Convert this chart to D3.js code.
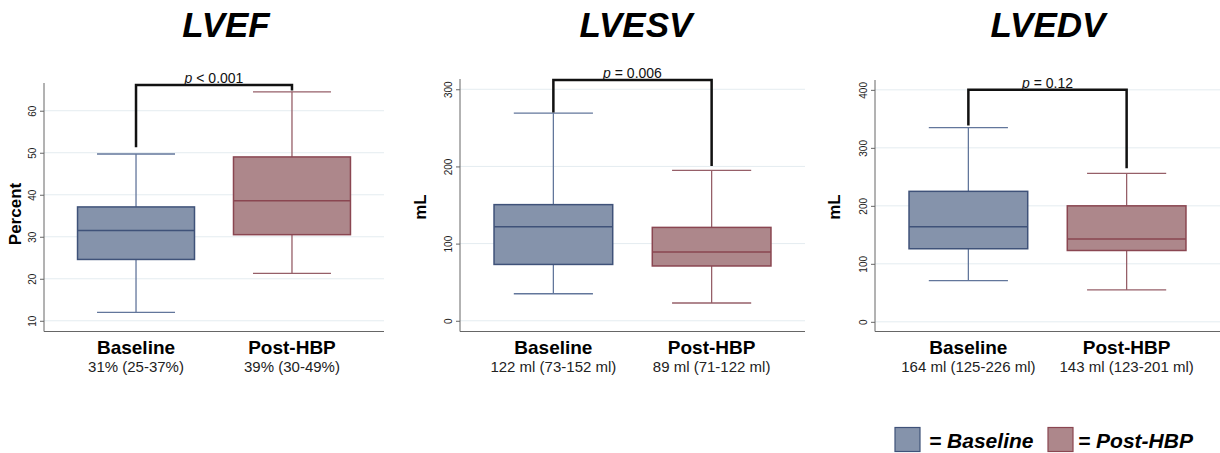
<!DOCTYPE html>
<html>
<head>
<meta charset="utf-8">
<script src="https://cdn.jsdelivr.net/npm/d3@7"></script>
<style>
  body { margin: 0; background: #fff; }
  svg { display: block; font-family: "Liberation Sans", Arial, sans-serif; }
</style>
</head>
<body>
<div class="d3-wrapper"></div>
<script>
// ---- data ----
const titles = ['LVEF', 'LVESV', 'LVEDV'];
const groups = ['Baseline', 'Post-HBP'];
const yLabels = ['Percent', 'mL', 'mL'];
const yTicks = [[10, 20, 30, 40, 50, 60], [0, 100, 200, 300], [0, 100, 200, 300, 400]];
const yDomains = [[7.45, 66.6], [-13.9, 313.3], [-16.7, 417]];

// per panel: [Baseline, Post-HBP]
const lowWhisker = [[12, 21.3], [35, 23], [71, 55]];
const q1 = [[24.6, 30.5], [73, 71], [126, 123]];
const medians = [[31.5, 38.6], [122, 89], [164, 143]];
const q3 = [[37.1, 49], [150.5, 121], [225, 200]];
const highWhisker = [[49.7, 64.5], [269, 195], [335, 256]];

const summaries = [
  ['31% (25-37%)', '39% (30-49%)'],
  ['122 ml (73-152 ml)', '89 ml (71-122 ml)'],
  ['164 ml (125-226 ml)', '143 ml (123-201 ml)']
];
const pValues = ['< 0.001', '= 0.006', '= 0.12'];
const bracketTop = [66.1, 312, 400];
const bracketLegs = [[51.3, 64.8], [270, 200.6], [338.5, 265]];

// ---- layout ----
const WIDTH = 1220, HEIGHT = 453;
const PANELS = [
  { left: 44, width: 340, top: 83, titleX: 226, labelX: 15, labelY: 214 },
  { left: 460, width: 345, top: 79, titleX: 636, labelX: 420, labelY: 207 },
  { left: 875, width: 345, top: 80, titleX: 1048, labelX: 834, labelY: 207 }
];
const BOTTOM = 331.5;

const FILL = ['#8593ab', '#ad878b'];
const EDGE = ['#3f5279', '#8a4651'];
const WHISK = ['#62769b', '#965f68'];

const svg = d3.select('.d3-wrapper').append('svg')
  .attr('width', WIDTH)
  .attr('height', HEIGHT);

titles.forEach((title, i) => {
  const P = PANELS[i];
  const x = d3.scalePoint().domain(groups).range([P.left, P.left + P.width]).padding(0.59);
  const y = d3.scaleLinear().domain(yDomains[i]).range([BOTTOM, P.top]);
  const step = x.step();
  const boxW = step * 0.75, capW = step * 0.5;

  const g = svg.append('g').attr('class', 'panel');

  g.append('text')
    .attr('x', P.titleX)
    .attr('y', 37)
    .attr('text-anchor', 'middle')
    .style('font-size', '35px')
    .style('font-weight', 'bold')
    .style('font-style', 'italic')
    .text(title);

  // grid
  g.append('g').selectAll('line')
    .data(yTicks[i])
    .enter().append('line')
    .attr('x1', P.left).attr('x2', P.left + P.width)
    .attr('y1', d => y(d)).attr('y2', d => y(d))
    .attr('stroke', '#e4ecf0')
    .attr('stroke-width', 1);

  // axes
  const yAxis = d3.axisLeft(y).tickValues(yTicks[i]).tickSizeInner(4).tickSizeOuter(0);
  const ya = g.append('g')
    .attr('transform', `translate(${P.left},0)`)
    .call(yAxis);
  ya.select('.domain').attr('stroke', '#666').attr('d', `M0,${P.top}V${BOTTOM}`);
  ya.selectAll('.tick line').attr('stroke', '#666');
  ya.selectAll('.tick text')
    .attr('transform', 'rotate(-90)')
    .attr('x', 0).attr('y', -8).attr('dy', 0)
    .attr('text-anchor', 'middle')
    .attr('fill', '#222')
    .style('font-size', '10px');

  g.append('line')
    .attr('x1', P.left).attr('x2', P.left + P.width)
    .attr('y1', BOTTOM).attr('y2', BOTTOM)
    .attr('stroke', '#666').attr('stroke-width', 1.2);

  g.append('text')
    .attr('transform', `translate(${P.labelX},${P.labelY}) rotate(-90)`)
    .attr('text-anchor', 'middle')
    .attr('dy', '0.35em')
    .style('font-size', '17px')
    .style('font-weight', 'bold')
    .text(yLabels[i]);

  // boxes
  groups.forEach((grp, j) => {
    const cx = x(grp);
    const bx = g.append('g');
    bx.append('line')
      .attr('x1', cx).attr('x2', cx)
      .attr('y1', y(highWhisker[i][j])).attr('y2', y(q3[i][j]))
      .attr('stroke', WHISK[j]).attr('stroke-width', 1.3);
    bx.append('line')
      .attr('x1', cx).attr('x2', cx)
      .attr('y1', y(q1[i][j])).attr('y2', y(lowWhisker[i][j]))
      .attr('stroke', WHISK[j]).attr('stroke-width', 1.3);
    [highWhisker[i][j], lowWhisker[i][j]].forEach(v => {
      bx.append('line')
        .attr('x1', cx - capW / 2).attr('x2', cx + capW / 2)
        .attr('y1', y(v)).attr('y2', y(v))
        .attr('stroke', WHISK[j]).attr('stroke-width', 1.3);
    });
    bx.append('rect')
      .attr('x', cx - boxW / 2)
      .attr('y', y(q3[i][j]))
      .attr('width', boxW)
      .attr('height', y(q1[i][j]) - y(q3[i][j]))
      .attr('fill', FILL[j])
      .attr('stroke', EDGE[j])
      .attr('stroke-width', 1.5);
    bx.append('line')
      .attr('x1', cx - boxW / 2).attr('x2', cx + boxW / 2)
      .attr('y1', y(medians[i][j])).attr('y2', y(medians[i][j]))
      .attr('stroke', EDGE[j]).attr('stroke-width', 1.5);

    g.append('text')
      .attr('x', cx).attr('y', 354)
      .attr('text-anchor', 'middle')
      .style('font-size', '19px')
      .style('font-weight', 'bold')
      .text(grp);
    g.append('text')
      .attr('x', cx).attr('y', 372)
      .attr('text-anchor', 'middle')
      .style('font-size', '15px')
      .attr('fill', '#222')
      .text(summaries[i][j]);
  });

  // significance bracket
  const xa = x(groups[0]), xb = x(groups[1]);
  const yt = y(bracketTop[i]);
  g.append('path')
    .attr('d', `M${xa},${y(bracketLegs[i][0])}V${yt}H${xb}V${y(bracketLegs[i][1])}`)
    .attr('fill', 'none')
    .attr('stroke', '#111')
    .attr('stroke-width', 2.5);
  const pt = g.append('text')
    .attr('x', (xa + xb) / 2)
    .attr('y', yt - 2)
    .attr('text-anchor', 'middle')
    .style('font-size', '14px')
    .attr('fill', '#111');
  pt.append('tspan').style('font-style', 'italic').text('p');
  pt.append('tspan').text(' ' + pValues[i]);
});

// legend
const legend = svg.append('g').attr('class', 'legend');
const legendX = [895, 1048];
const legendTextX = [929, 1078];
groups.forEach((grp, j) => {
  legend.append('rect')
    .attr('x', legendX[j]).attr('y', 427.5)
    .attr('width', 25).attr('height', 24)
    .attr('fill', FILL[j])
    .attr('stroke', EDGE[j])
    .attr('stroke-width', 1.2);
  legend.append('text')
    .attr('x', legendTextX[j]).attr('y', 448)
    .style('font-size', '21px')
    .style('font-weight', 'bold')
    .style('font-style', 'italic')
    .text('= ' + grp);
});
</script>
</body>
</html>
